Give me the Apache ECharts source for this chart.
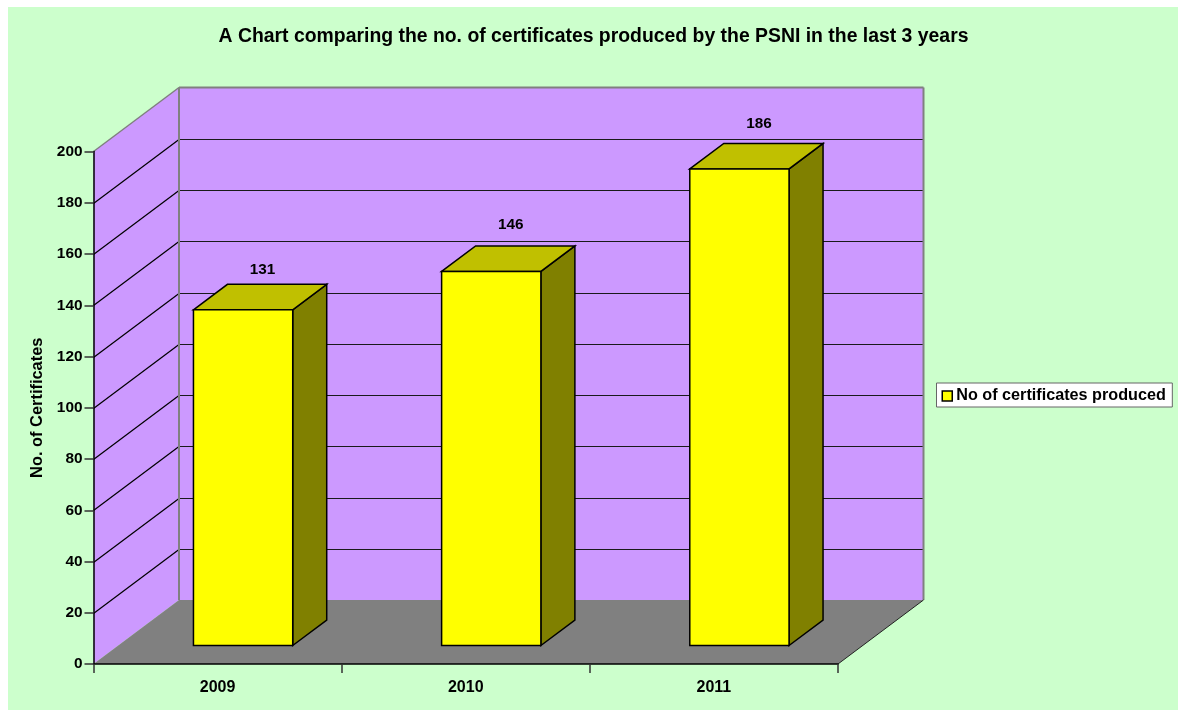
<!DOCTYPE html>
<html>
<head>
<meta charset="utf-8">
<title>PSNI certificates</title>
<style>
  html, body { margin: 0; padding: 0; background: #fff; }
  #panel { position: absolute; left: 8px; top: 7px; width: 1170px; height: 703px; background: #CCFFCC; }
  #chart { position: absolute; left: 0; top: 0; width: 1178px; height: 710px; }
</style>
<script src="https://cdn.jsdelivr.net/npm/echarts@6/dist/echarts.min.js"></script>
</head>
<body>
<div id="panel"></div>
<div id="chart"></div>
<script>
var years = ['2009', '2010', '2011'];
var certificates = [131, 146, 186];
var yTicks = [0, 20, 40, 60, 80, 100, 120, 140, 160, 180, 200];

// fake 3D, pixels between front plane and back wall
var depthX = 85.5, depthY = -64;
// bar sits in the middle of the floor depth
var barOffX = 25.5, barOffY = -18.5, barDepthX = 34, barDepthY = -25.5;
var barShare = 0.4;
// label nudges, per bar
var labelLift = [15, 21, 20];

var font = '"Liberation Sans", Arial, sans-serif';
var outline = { stroke: '#000', lineWidth: 1.5, lineJoin: 'miter' };

function poly(points, fill, stroke, width) {
    return {
        type: 'polygon',
        shape: { points: points },
        style: { fill: fill, stroke: stroke || null, lineWidth: width || 0 }
    };
}

function seg(x1, y1, x2, y2, color, width) {
    return {
        type: 'line',
        shape: { x1: x1, y1: y1, x2: x2, y2: y2 },
        style: { stroke: color, lineWidth: width, fill: null }
    };
}

function renderWalls(params, api) {
    var slot = api.size([1, 0])[0];
    var left = api.coord([0, 0])[0] - slot / 2;
    var right = api.coord([years.length - 1, 0])[0] + slot / 2;
    var bottom = api.coord([0, yTicks[0]])[1];
    var top = api.coord([0, yTicks[yTicks.length - 1]])[1];
    var kids = [
        poly([[left + depthX, top + depthY], [right + depthX, top + depthY], [right + depthX, bottom + depthY], [left + depthX, bottom + depthY]], '#CC99FF'),
        poly([[left, top], [left + depthX, top + depthY], [left + depthX, bottom + depthY], [left, bottom]], '#CC99FF'),
        poly([[left, bottom], [left + depthX, bottom + depthY], [right + depthX, bottom + depthY], [right, bottom]], '#808080')
    ];
    yTicks.slice(1, -1).forEach(function (v) {
        var y = Math.round(api.coord([0, v])[1]) + 0.5;
        kids.push(seg(left, y, left + depthX, y + depthY, '#000', 1.2));
        kids.push(seg(left + depthX, y + depthY, right + depthX, y + depthY, '#1a1a1a', 1.2));
    });
    kids.push(seg(left, top, left + depthX, top + depthY, '#808080', 1.5));
    kids.push(seg(left + depthX, top + depthY, right + depthX, top + depthY, '#808080', 2));
    kids.push(seg(left + depthX, top + depthY, left + depthX, bottom + depthY, '#808080', 2));
    kids.push(seg(right + depthX, top + depthY, right + depthX, bottom + depthY, '#808080', 2));
    kids.push(seg(right, bottom, right + depthX, bottom + depthY, '#222', 1));
    return { type: 'group', children: kids };
}

function renderBar(params, api) {
    var i = params.dataIndex;
    var slot = api.size([1, 0])[0];
    var w = slot * barShare;
    var base = api.coord([api.value(0), 0]);
    var head = api.coord([api.value(0), api.value(1)]);
    var x0 = base[0] - w / 2 + barOffX;
    var x1 = x0 + w;
    var y0 = base[1] + barOffY;
    var y1 = head[1] + barOffY;
    return {
        type: 'group',
        children: [
            {
                type: 'polygon',
                shape: { points: [[x1, y0], [x1 + barDepthX, y0 + barDepthY], [x1 + barDepthX, y1 + barDepthY], [x1, y1]] },
                style: Object.assign({ fill: '#808000' }, outline)
            },
            {
                type: 'polygon',
                shape: { points: [[x0, y1], [x0 + barDepthX, y1 + barDepthY], [x1 + barDepthX, y1 + barDepthY], [x1, y1]] },
                style: Object.assign({ fill: '#C0C000' }, outline)
            },
            {
                type: 'rect',
                shape: { x: x0, y: y1, width: w, height: y0 - y1 },
                style: Object.assign({ fill: '#FFFF00' }, outline)
            },
            {
                type: 'text',
                style: {
                    x: (x0 + x1) / 2 + barDepthX / 2 + 2.5,
                    y: y1 + barDepthY - labelLift[i],
                    text: String(api.value(1)),
                    fill: '#000',
                    font: 'bold 15.3px ' + font,
                    textAlign: 'center',
                    textVerticalAlign: 'middle'
                }
            }
        ]
    };
}

var myChart = echarts.init(document.getElementById('chart'));
var option = {
    animation: false,
    backgroundColor: 'transparent',
    title: {
        text: 'A Chart comparing the no. of certificates produced by the PSNI in the last 3 years',
        left: 593.5,
        top: 36.5,
        textAlign: 'center',
        textVerticalAlign: 'middle',
        padding: 0,
        textStyle: { fontFamily: font, fontSize: 19.4, fontWeight: 'bold', color: '#000' }
    },
    legend: {
        left: 936.5,
        top: 383,
        orient: 'vertical',
        icon: 'rect',
        itemWidth: 10,
        itemHeight: 10,
        itemGap: 0,
        padding: [5, 6.5, 3, 5],
        backgroundColor: '#fff',
        borderColor: '#666',
        borderWidth: 1,
        selectedMode: false,
        textStyle: { fontFamily: font, fontSize: 16.2, fontWeight: 'bold', color: '#000', padding: [0, 0, 0, -1] },
        data: [{ name: 'No of certificates produced', itemStyle: { color: '#FFFF00', borderColor: '#000', borderWidth: 1.5 } }]
    },
    grid: { left: 93.5, top: 151.5, width: 744.5, height: 512.5, containLabel: false },
    xAxis: {
        type: 'category',
        data: years,
        axisLine: { show: true, lineStyle: { color: '#000', width: 1.5 } },
        axisTick: { show: true, length: 9, lineStyle: { color: '#333', width: 1.5 } },
        axisLabel: { fontFamily: font, fontSize: 16, fontWeight: 'bold', color: '#000', margin: 16 }
    },
    yAxis: {
        type: 'value',
        min: 0,
        max: 200,
        interval: 20,
        name: 'No. of Certificates',
        nameLocation: 'middle',
        nameGap: 48,
        nameRotate: 90,
        nameTextStyle: { fontFamily: font, fontSize: 16.4, fontWeight: 'bold', color: '#000' },
        splitLine: { show: false },
        axisLine: { show: true, lineStyle: { color: '#000', width: 1.5 } },
        axisTick: { show: true, length: 9, lineStyle: { color: '#333', width: 1.5 } },
        axisLabel: { fontFamily: font, fontSize: 15.4, fontWeight: 'bold', color: '#000', margin: 11 }
    },
    series: [
        {
            name: 'walls',
            type: 'custom',
            silent: true,
            z: -1,
            renderItem: renderWalls,
            data: [[0, 0]]
        },
        {
            name: 'No of certificates produced',
            type: 'custom',
            z: 3,
            itemStyle: { color: '#FFFF00' },
            renderItem: renderBar,
            encode: { x: 0, y: 1 },
            data: certificates.map(function (v, i) { return [i, v]; })
        }
    ]
};
myChart.setOption(option);
</script>
</body>
</html>
